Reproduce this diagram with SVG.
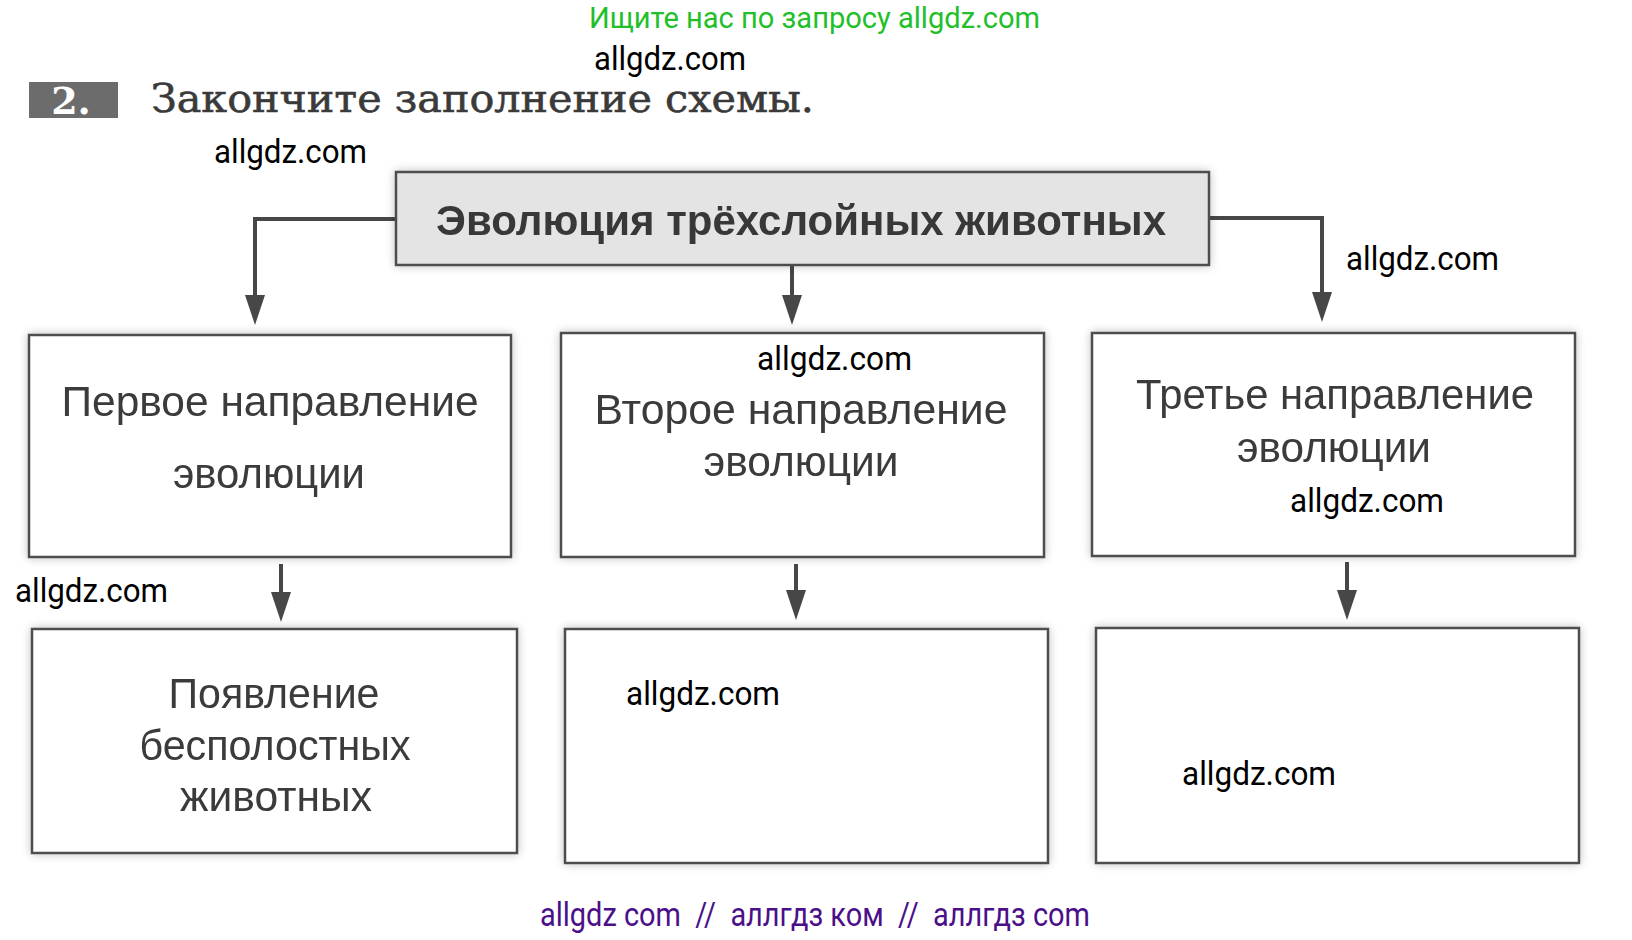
<svg xmlns="http://www.w3.org/2000/svg" width="1632" height="940" viewBox="0 0 1632 940">
<style>
.wm{font-family:Roboto,"Liberation Sans",sans-serif;font-size:34px;fill:#000}
.box{fill:#fff;stroke:#4e4e4e;stroke-width:2.5}
.title{fill:#e4e4e4;stroke:#4e4e4e;stroke-width:2.5}
.t{font-family:"Liberation Sans",Arial,sans-serif;font-size:42px;fill:#3a3a3a;text-anchor:middle}
.tb{font-family:"Liberation Sans",Arial,sans-serif;font-size:42px;font-weight:bold;fill:#383838;text-anchor:middle}
.con{fill:none;stroke:#474747;stroke-width:4}
</style>
<defs>
<marker id="ah" markerUnits="userSpaceOnUse" markerWidth="30" markerHeight="20" refX="5" refY="10" orient="auto">
<path d="M0,0 L30,10 L0,20 Z" fill="#474747"/>
</marker>
<filter id="sh" x="-5%" y="-10%" width="110%" height="120%">
<feGaussianBlur in="SourceAlpha" stdDeviation="5"/>
<feComponentTransfer><feFuncA type="linear" slope="0.25"/></feComponentTransfer>
<feMerge><feMergeNode/><feMergeNode in="SourceGraphic"/></feMerge>
</filter>
</defs>
<rect width="1632" height="940" fill="#fff"/>

<g id="header">
<rect x="29" y="82" width="89" height="36" fill="#6c6c6c"/>
<text x="71" y="114" font-family="'DejaVu Serif',serif" font-size="38" font-weight="bold" fill="#fff" text-anchor="middle">2.</text>
<text x="151" y="112" font-family="'DejaVu Serif',serif" font-size="40" fill="#3a3a3a" stroke="#3a3a3a" stroke-width="0.6" textLength="663" lengthAdjust="spacingAndGlyphs">Закончите заполнение схемы.</text>
</g>

<g id="connectors">
<path class="con" d="M396,219 H255 V300" marker-end="url(#ah)"/>
<path class="con" d="M792,265 V300" marker-end="url(#ah)"/>
<path class="con" d="M1209,218 H1322 V297" marker-end="url(#ah)"/>
<path class="con" d="M281,564 V597" marker-end="url(#ah)"/>
<path class="con" d="M796,564 V595" marker-end="url(#ah)"/>
<path class="con" d="M1347,562 V595" marker-end="url(#ah)"/>
</g>

<g id="root" filter="url(#sh)">
<rect class="title" x="396" y="172" width="813" height="93"/>
<text class="tb" x="801" y="235" textLength="730" lengthAdjust="spacingAndGlyphs">Эволюция трёхслойных животных</text>
</g>

<g id="dir1" filter="url(#sh)">
<rect class="box" x="29" y="335" width="482" height="222"/>
<text class="t" x="270" y="416" textLength="417" lengthAdjust="spacingAndGlyphs">Первое направление</text>
<text class="t" x="269" y="488" textLength="192" lengthAdjust="spacingAndGlyphs">эволюции</text>
</g>

<g id="dir2" filter="url(#sh)">
<rect class="box" x="561" y="333" width="483" height="224"/>
<text class="t" x="801" y="424" textLength="413" lengthAdjust="spacingAndGlyphs">Второе направление</text>
<text class="t" x="801" y="476" textLength="195" lengthAdjust="spacingAndGlyphs">эволюции</text>
</g>

<g id="dir3" filter="url(#sh)">
<rect class="box" x="1092" y="333" width="483" height="223"/>
<text class="t" x="1335" y="409" textLength="398" lengthAdjust="spacingAndGlyphs">Третье направление</text>
<text class="t" x="1334" y="462" textLength="194" lengthAdjust="spacingAndGlyphs">эволюции</text>
</g>

<g id="res1" filter="url(#sh)">
<rect class="box" x="32" y="629" width="485" height="224"/>
<text class="t" x="274" y="708" textLength="211" lengthAdjust="spacingAndGlyphs">Появление</text>
<text class="t" x="275" y="760" textLength="271" lengthAdjust="spacingAndGlyphs">бесполостных</text>
<text class="t" x="276" y="811" textLength="192" lengthAdjust="spacingAndGlyphs">животных</text>
</g>

<g id="res2" filter="url(#sh)">
<rect class="box" x="565" y="629" width="483" height="234"/>
</g>

<g id="res3" filter="url(#sh)">
<rect class="box" x="1096" y="628" width="483" height="235"/>
</g>

<g id="watermarks">
<text x="589" y="28" font-family="Roboto,'Liberation Sans',sans-serif" font-size="30" fill="#22bf2a" textLength="451" lengthAdjust="spacingAndGlyphs">Ищите нас по запросу allgdz.com</text>
<text class="wm" x="594" y="70" textLength="152" lengthAdjust="spacingAndGlyphs">allgdz.com</text>
<text class="wm" x="214" y="163" textLength="153" lengthAdjust="spacingAndGlyphs">allgdz.com</text>
<text class="wm" x="1346" y="270" textLength="153" lengthAdjust="spacingAndGlyphs">allgdz.com</text>
<text class="wm" x="757" y="370" textLength="155" lengthAdjust="spacingAndGlyphs">allgdz.com</text>
<text class="wm" x="1290" y="512" textLength="154" lengthAdjust="spacingAndGlyphs">allgdz.com</text>
<text class="wm" x="15" y="602" textLength="153" lengthAdjust="spacingAndGlyphs">allgdz.com</text>
<text class="wm" x="626" y="705" textLength="154" lengthAdjust="spacingAndGlyphs">allgdz.com</text>
<text class="wm" x="1182" y="785" textLength="154" lengthAdjust="spacingAndGlyphs">allgdz.com</text>
<text x="540" y="926" font-family="Roboto,'Liberation Sans',sans-serif" font-size="33" fill="#4b1089" textLength="550" lengthAdjust="spacingAndGlyphs" xml:space="preserve">allgdz com  //  аллгдз ком  //  аллгдз com</text>
</g>
</svg>
